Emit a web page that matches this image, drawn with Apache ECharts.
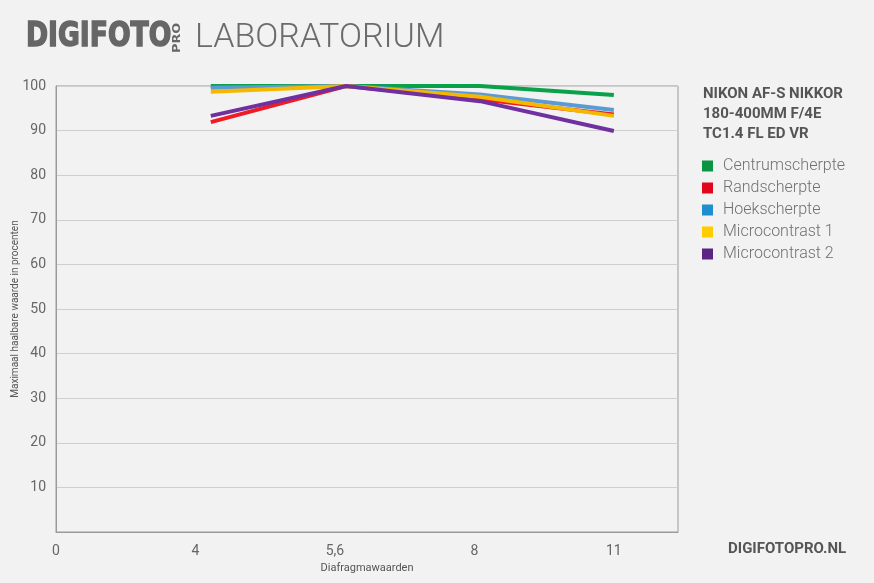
<!DOCTYPE html>
<html>
<head>
<meta charset="utf-8">
<script src="https://cdn.jsdelivr.net/npm/echarts@6/dist/echarts.min.js"></script>
<style>
  html, body { margin: 0; padding: 0; background: #f2f2f2; }
  #chart { width: 874px; height: 583px; }
</style>
</head>
<body>
<div id="chart"></div>
<script>
const apertureLabels = ["0", "4", "5,6", "8", "11"];
// positions of the measured apertures on the axis (in label steps)
const apertureX = [1.11, 2.08, 3.04, 4.0];

const centrum = [100, 100, 100, 98.0];
const rand = [91.9, 100, 97.0, 93.6];
const hoek = [99.6, 100, 98.1, 94.6];
const micro1 = [98.7, 100, 97.6, 93.3];
const micro2 = [93.3, 100, 96.6, 89.9];

const seriesNames = ["Centrumscherpte", "Randscherpte", "Hoekscherpte", "Microcontrast 1", "Microcontrast 2"];
const seriesData = [centrum, rand, hoek, micro1, micro2];
const lineColors = ["#0aa14c", "#ee1c25", "#5b9bd5", "#f5b800", "#7030a0"];
const legendColors = ["#0b9444", "#e2061c", "#1e8ed0", "#ffcc00", "#5c2483"];

const chart = echarts.init(document.getElementById("chart"));

chart.setOption({
  backgroundColor: "#f2f2f2",
  animation: false,
  textStyle: { fontFamily: "Roboto" },
  grid: {
    left: 56, right: 196, top: 86, bottom: 51,
    outerBoundsMode: "none",
    show: true, borderColor: "#9a9a9a", borderWidth: 1, backgroundColor: "transparent",
  },
  legend: {
    orient: "vertical",
    left: 697, top: 153,
    itemWidth: 11, itemHeight: 11, itemGap: 6,
    icon: "rect",
    textStyle: { color: "#707070", fontSize: 16, fontWeight: 300, fontFamily: "Roboto", padding: [0, 0, 0, 5] },
    data: seriesNames.map((name, i) => ({ name, itemStyle: { color: legendColors[i] } })),
  },
  xAxis: {
    type: "value",
    min: 0, max: 4.46, interval: 1,
    name: "Diafragmawaarden",
    nameLocation: "middle", nameGap: 30,
    nameTextStyle: { color: "#555", fontSize: 11 },
    axisLine: { lineStyle: { color: "#9a9a9a" } },
    axisTick: { show: false },
    splitLine: { show: false },
    axisLabel: {
      color: "#666", fontSize: 14, margin: 12,
      formatter: (v) => (Number.isInteger(v) ? apertureLabels[v] : ""),
    },
  },
  yAxis: {
    type: "value",
    min: 0, max: 100, interval: 10,
    name: "Maximaal haalbare waarde in procenten",
    nameLocation: "middle", nameGap: 36, nameMoveOverlap: false,
    nameTextStyle: { color: "#555", fontSize: 10 },
    axisLine: { show: true, lineStyle: { color: "#9a9a9a" } },
    axisTick: { show: false },
    splitLine: { lineStyle: { color: "#cfcfcf" } },
    axisLabel: {
      color: "#666", fontSize: 14, margin: 10,
      formatter: (v) => (v === 0 ? "" : String(v)),
    },
  },
  series: seriesNames.map((name, i) => ({
    name,
    type: "line",
    symbol: "none",
    data: seriesData[i].map((v, j) => [apertureX[j], v]),
    lineStyle: { color: lineColors[i], width: 4 },
    itemStyle: { color: legendColors[i] },
  })),
  graphic: [
    {
      type: "text", x: 26, y: 20, scaleX: 0.87,
      style: {
        text: "DIGIFOTO", fill: "#666", stroke: "#666", lineWidth: 1.4,
        fontSize: 34, fontWeight: "bold", fontFamily: "DejaVu Sans Condensed",
      },
    },
    {
      type: "text", x: 172, y: 53, rotation: Math.PI / 2, scaleX: 1.3,
      style: {
        text: "PRO", fill: "#666", fontSize: 11, fontWeight: "bold", fontFamily: "DejaVu Sans Condensed",
        align: "left", verticalAlign: "top",
      },
    },
    {
      type: "text", left: 195, top: 21,
      style: { text: "LABORATORIUM", fill: "#6b6b6b", fontSize: 34, fontWeight: 300, fontFamily: "Roboto" },
    },
    {
      type: "text", left: 703, top: 84,
      style: {
        text: "NIKON AF-S NIKKOR\n180-400MM F/4E\nTC1.4 FL ED VR",
        fill: "#555", fontSize: 15, fontWeight: "bold", lineHeight: 20, fontFamily: "Roboto",
      },
    },
    {
      type: "text", left: 728, top: 542,
      style: { text: "DIGIFOTOPRO.NL", fill: "#555", fontSize: 15, fontWeight: "bold", fontFamily: "Roboto" },
    },
  ],
});
</script>
</body>
</html>
